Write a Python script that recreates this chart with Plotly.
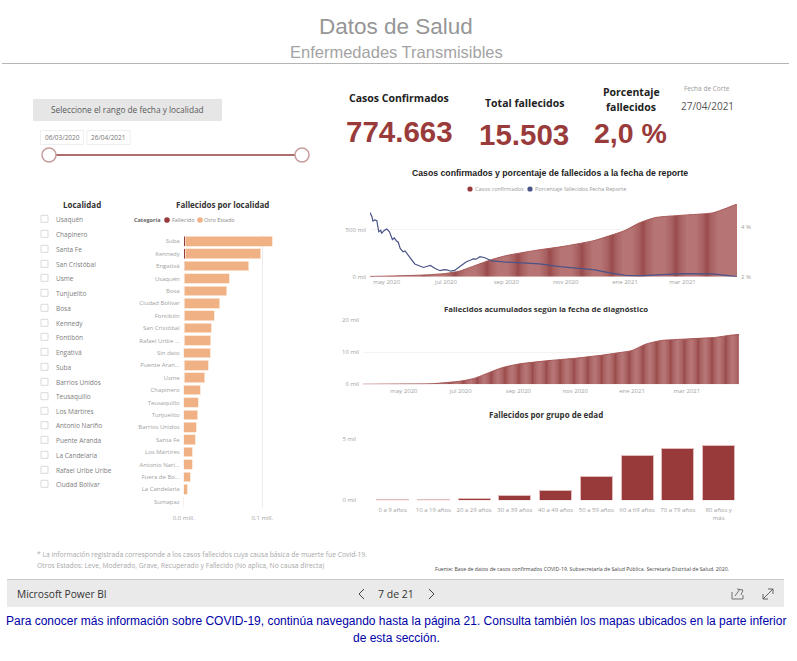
import plotly.graph_objects as go

W, H = 797, 661
def X(p): return p / W
def Y(p): return 1 - p / H

# ---------- data ----------
case_dates = ["2020-04-14","2020-05-01","2020-06-01","2020-06-15","2020-07-01","2020-07-15","2020-08-01","2020-08-15","2020-09-01",
              "2020-10-01","2020-11-01","2020-12-01","2020-12-15","2021-01-01","2021-01-15","2021-02-01","2021-03-01",
              "2021-04-01","2021-04-15","2021-04-26"]
case_values = [3,6,15,22,35,60,123,176,225,280,327,387,433,493,570,630,655,680,730,774.663]

pct_dates = ["2020-04-14","2020-04-16","2020-04-17","2020-04-19","2020-04-21","2020-04-22","2020-04-23","2020-04-25","2020-04-26","2020-04-28",
             "2020-05-01","2020-05-02","2020-05-04","2020-05-07","2020-05-09","2020-05-11","2020-05-13","2020-05-15","2020-05-18","2020-05-20","2020-05-23","2020-05-27",
             "2020-05-30","2020-06-04","2020-06-08","2020-06-11","2020-06-15","2020-06-20","2020-06-25","2020-06-29","2020-07-02","2020-07-06","2020-07-10",
             "2020-07-15","2020-07-22","2020-07-26","2020-07-29","2020-08-01","2020-08-05","2020-08-10","2020-08-17","2020-08-29","2020-09-15",
             "2020-10-05","2020-10-26","2020-11-15","2020-12-01","2020-12-15","2021-01-01","2021-01-15","2021-02-01",
             "2021-03-01","2021-04-01","2021-04-15","2021-04-26"]
pct_values = [4.57,4.40,4.23,4.27,4.24,4.07,3.80,3.86,3.73,3.83,3.91,3.88,3.80,3.49,3.55,3.44,3.38,3.13,3.00,3.03,2.87,2.67,
              2.51,2.43,2.37,2.41,2.45,2.33,2.24,2.28,2.27,2.22,2.25,2.40,2.60,2.66,2.71,2.70,2.80,2.76,2.63,2.59,2.56,2.51,2.40,2.34,
              2.27,2.16,2.05,2.03,2.07,2.12,2.11,2.05,2.00]

death_dates = ["2020-03-18","2020-05-01","2020-06-01","2020-07-01","2020-07-15","2020-08-01","2020-08-15","2020-09-01",
               "2020-10-01","2020-11-01","2020-12-01","2020-12-15","2021-01-01","2021-01-15","2021-02-01","2021-03-01",
               "2021-04-01","2021-04-15","2021-04-26"]
death_values = [0.01,0.1,0.2,1.0,1.8,3.7,5.2,6.3,7.3,8.1,9.1,9.7,10.5,12.4,13.6,14.1,14.6,15.2,15.503]

age_groups = ["0 a 9 años","10 a 19 años","20 a 29 años","30 a 39 años","40 a 49 años","50 a 59 años","60 a 69 años",
              "70 a 79 años","80 años y<br>más"]
age_values = [0.05,0.04,0.13,0.35,0.78,1.97,3.62,4.24,4.46]

loc_names = ["Suba","Kennedy","Engativá","Usaquén","Bosa","Ciudad Bolívar","Fontibón","San Cristóbal","Rafael Uribe ...",
             "Sin dato","Puente Aran...","Usme","Chapinero","Teusaquillo","Tunjuelito","Barrios Unidos","Santa Fe",
             "Los Mártires","Antonio Nari...","Fuera de Bo...","La Candelaria","Sumapaz"]
loc_dead = [0.0020,0.0020,0.0015,0.0008,0.0010,0.0008,0.0006,0.0006,0.0006,0.0003,0.0005,0.0004,0.0003,0.0003,0.0003,
            0.0003,0.0003,0.0002,0.0002,0.0001,0.0001,0.0000]
loc_other = [0.1107,0.0960,0.0812,0.0572,0.0540,0.0450,0.0380,0.0346,0.0341,0.0336,0.0308,0.0263,0.0205,0.0183,0.0175,
             0.0158,0.0141,0.0104,0.0104,0.0084,0.0041,0.0003]

filter_list = ["Usaquén","Chapinero","Santa Fe","San Cristóbal","Usme","Tunjuelito","Bosa","Kennedy","Fontibón","Engativá",
               "Suba","Barrios Unidos","Teusaquillo","Los Mártires","Antonio Nariño","Puente Aranda","La Candelaria",
               "Rafael Uribe Uribe","Ciudad Bolívar"]
filter_rows = [219.3,234.3,249.3,264.3,278.3,293.3,308.3,323.3,337.3,352.3,367.3,382.3,396.7,411.3,425.7,440.3,455.3,470.3,484.3]

x_tickvals = ["2020-05-01","2020-07-01","2020-09-01","2020-11-01","2021-01-01","2021-03-01"]
x_ticktext = ["may 2020","jul 2020","sep 2020","nov 2020","ene 2021","mar 2021"]

# ---------- palette ----------
RED = "#993a3a"
ORANGE = "#f0b185"
NAVY = "#4a5488"
GREY = "#a2a2a2"
SANS = "Open Sans"
ARIAL = "Liberation Sans"

def stripes(x0, x1, centres, half):
    light, dark, mid = "#b67474", "#9a4a4a", "#a86060"
    stops = [(0.0, light)]
    for c in centres:
        for off, col in ((-half, light), (-half * 0.35, mid), (0, dark), (half * 0.35, mid), (half, light)):
            f = (c + off - x0) / (x1 - x0)
            if 0 < f < 1 and f > stops[-1][0]:
                stops.append((f, col))
    stops.append((1.0, light))
    return stops

fig = go.Figure()

# chart 1
fig.add_trace(go.Scatter(x=case_dates, y=case_values, mode="lines", xaxis="x", yaxis="y",
                         line=dict(color="#a65555", width=1, shape="spline", smoothing=0.6), fill="tozeroy", showlegend=False,
                         name="Casos confirmados",
                         fillgradient=dict(type="horizontal",
                                           colorscale=stripes(370, 737, [423,455,487,518,550,582,612,643,676,707], 11))))
fig.add_trace(go.Scatter(x=pct_dates, y=pct_values, mode="lines", xaxis="x", yaxis="y2",
                         line=dict(color=NAVY, width=1.2), showlegend=False, name="Porcentaje fallecidos Fecha Reporte"))
# chart 2
fig.add_trace(go.Scatter(x=death_dates, y=death_values, mode="lines", xaxis="x2", yaxis="y3",
                         line=dict(color="#a65555", width=1, shape="spline", smoothing=0.6), fill="tozeroy", showlegend=False,
                         name="Fallecidos",
                         fillgradient=dict(type="horizontal",
                                           colorscale=stripes(363, 739, [363 + 13.8 * i + 4 for i in range(28)], 6))))
# chart 3
fig.add_trace(go.Bar(x=age_groups, y=age_values, xaxis="x3", yaxis="y4", marker=dict(color=RED, line=dict(color="#e2bcbc", width=1)),
                     width=0.79, showlegend=False))
# chart 4
fig.add_trace(go.Bar(y=loc_names, x=loc_dead, orientation="h", xaxis="x4", yaxis="y5", marker=dict(color=RED),
                     width=0.78, showlegend=False, name="Fallecido"))
fig.add_trace(go.Bar(y=loc_names, x=loc_other, orientation="h", xaxis="x4", yaxis="y5",
                     marker=dict(color=ORANGE, line=dict(color="#fae3d2", width=0.8)),
                     width=0.78, showlegend=False, name="Otro Estado"))

tick = dict(size=6, color=GREY, family=SANS)
gridc = "#f3f3f3"
common_x = dict(type="date", tickmode="array", tickvals=x_tickvals, ticktext=x_ticktext, tickfont=tick, showgrid=False,
                zeroline=False, showline=False, ticks="")
common_y = dict(tickfont=tick, showgrid=True, gridcolor=gridc, gridwidth=1, zeroline=False, showline=False, ticks="")

fig.update_layout(
    width=W, height=H, autosize=False, margin=dict(l=0, r=0, t=0, b=0, pad=0, autoexpand=False),
    paper_bgcolor="white", plot_bgcolor="white",
    font=dict(family=SANS), barmode="stack", showlegend=False,
    xaxis=dict(common_x, domain=[X(370), X(737)], range=["2020-04-14", "2021-04-26"], anchor="y"),
    yaxis=dict(common_y, domain=[Y(276.7), Y(204)], range=[0, 774.663], tickmode="array", tickvals=[0, 500],
               ticktext=["0 mil", "500 mil"], anchor="x", ticklabelstandoff=3),
    yaxis2=dict(tickfont=tick, overlaying="y", side="right", range=[2, 4.91], tickmode="array", tickvals=[2, 4],
                ticktext=["2 %", "4 %"], showgrid=False, zeroline=False, showline=False, ticks="", anchor="x",
                ticklabelstandoff=3),
    xaxis2=dict(common_x, domain=[X(363), X(739)], range=["2020-03-18", "2021-04-26"], anchor="y3", ticklabelstandoff=2),
    yaxis3=dict(common_y, domain=[Y(384.3), Y(320)], range=[0, 20], tickmode="array", tickvals=[0, 10, 20],
                ticktext=["0 mil", "10 mil", "20 mil"], anchor="x2", ticklabelstandoff=3),
    xaxis3=dict(domain=[X(360), X(739)], range=[-0.8, 8.5], type="category", categoryorder="array", categoryarray=age_groups,
                tickfont=tick, showgrid=False, zeroline=False, showline=False, ticks="", anchor="y4", tickangle=0,
                ticklabelstandoff=5),
    yaxis4=dict(common_y, domain=[Y(500.3), Y(438.7)], range=[0, 5], tickmode="array", tickvals=[0, 5],
                ticktext=["0 mil", "5 mil"], anchor="x3", ticklabelstandoff=3),
    xaxis4=dict(domain=[X(183.7), X(275)], range=[0, 0.1162], tickmode="array", tickvals=[0, 0.1],
                ticktext=["0,0 mill.", "0,1 mill."], tickfont=tick, showgrid=True, gridcolor="#ececec", zeroline=False,
                showline=False, ticks="", anchor="y5", ticklabelstandoff=5),
    yaxis5=dict(domain=[Y(507.9), Y(235.1)], type="category", categoryorder="array", categoryarray=loc_names[::-1],
                range=[-0.5, 21.5], tickfont=tick, showgrid=False, zeroline=False, showline=False, ticks="", anchor="x4",
                ticklabelstandoff=3, dtick=1),
)

ann, shp = [], []

def text(px, py, s, size, color, family=SANS, anchor="center", bold=False):
    if bold:
        s = f"<b>{s}</b>"
    ann.append(dict(x=X(px), y=Y(py), xref="paper", yref="paper", text=s, showarrow=False, xanchor=anchor, yanchor="middle",
                    font=dict(size=size, color=color, family=family), align="center", borderpad=0))

def rect(x0, y0, x1, y1, fill=None, line=None, lw=1):
    shp.append(dict(type="rect", xref="paper", yref="paper", x0=X(x0), x1=X(x1), y0=Y(y0), y1=Y(y1),
                    fillcolor=fill or "rgba(0,0,0,0)", line=dict(color=line or "rgba(0,0,0,0)", width=lw if line else 0),
                    layer="below"))

def line(x0, y0, x1, y1, color, lw=1):
    shp.append(dict(type="line", xref="paper", yref="paper", x0=X(x0), x1=X(x1), y0=Y(y0), y1=Y(y1),
                    line=dict(color=color, width=lw)))

def dot(cx, cy, r, fill, stroke=None, lw=1):
    shp.append(dict(type="circle", xref="paper", yref="paper", x0=X(cx - r), x1=X(cx + r), y0=Y(cy + r), y1=Y(cy - r),
                    fillcolor=fill, line=dict(color=stroke or fill, width=lw if stroke else 0)))

# header
text(396, 27, "Datos de Salud", 22.5, "#969696", ARIAL)
text(396, 52, "Enfermedades Transmisibles", 16.5, "#a3a3a3", ARIAL)
line(2, 63.5, 789, 63.5, "#b5b5b5", 1)

# date slicer
rect(33, 99, 222, 121, fill="#e6e6e6")
text(128, 109.5, "Seleccione el rango de fecha y localidad", 8.3, "#5a5a5a")
rect(40.5, 130.5, 83.5, 144.5, line="#efefef")
rect(87, 130.5, 130, 144.5, line="#efefef")
text(62, 137.5, "06/03/2020", 6.5, "#777777")
text(108.5, 137.5, "26/04/2021", 6.5, "#777777")
line(49, 155, 302, 155, "#8f3f3f", 1.5)
dot(49, 155, 7, "white", "#c99c9c", 1.5)
dot(302, 155, 7, "white", "#c99c9c", 1.5)

# filter list
text(82, 204, "Localidad", 8, "#333333", bold=True)
text(222, 204, "Fallecidos por localidad", 8, "#333333", bold=True)
for name, row in zip(filter_list, filter_rows):
    rect(41, row - 4, 48, row + 3, fill="white", line="#dadada", lw=1)
    text(55, row, name, 6.5, "#7d7d7d", anchor="left")

# bar legend
text(133, 220, "Categoría", 5.5, "#666666", anchor="left", bold=True)
dot(167, 220, 2.8, RED)
text(170.5, 220, "Fallecido", 5.5, "#888888", anchor="left")
dot(200, 220, 2.8, ORANGE)
text(203.5, 220, "Otro Estado", 5.5, "#888888", anchor="left")

# KPIs
KPI = "#9a3b3b"
text(399, 98, "Casos Confirmados", 10.5, "#222222", bold=True)
text(399, 132, "774.663", 29.5, KPI, ARIAL, bold=True)
text(524, 103, "Total fallecidos", 10.5, "#222222", bold=True)
text(524, 134, "15.503", 29.5, KPI, ARIAL, bold=True)
text(631, 92, "Porcentaje", 10.5, "#222222", bold=True)
text(631, 107, "fallecidos", 10.5, "#222222", bold=True)
text(630, 133, "2,0 %", 28.5, KPI, ARIAL, bold=True)
text(707, 88.5, "Fecha de Corte", 6.5, "#999999")
text(707, 106, "27/04/2021", 10, "#555555")

# chart titles and legend
text(550, 173, "Casos confirmados y porcentaje de fallecidos a la fecha de reporte", 8.7, "#222222", ARIAL, bold=True)
dot(470, 189, 2.6, RED)
text(474, 189, "Casos confirmados", 5.5, "#999999", anchor="left")
dot(530, 189, 2.6, NAVY)
text(534, 189, "Porcentaje fallecidos Fecha Reporte", 5.5, "#999999", anchor="left")
text(546, 309, "Fallecidos acumulados según la fecha de diagnóstico", 7.8, "#333333", bold=True)
text(546, 414, "Fallecidos por grupo de edad", 8, "#333333", bold=True)

# footnotes
text(36, 554.5, "* La información registrada corresponde a los casos fallecidos cuya causa básica de muerte fue Covid-19.", 6.75, "#a8a8a8", anchor="left")
text(36, 565, "Otros Estados: Leve, Moderado, Grave, Recuperado y Fallecido (No aplica, No causa directa)", 6.75, "#a8a8a8", anchor="left")
text(434, 569, "Fuente: Base de datos de casos confirmados COVID-19. Subsecretaría de Salud Pública. Secretaría Distrital de Salud. 2020.", 5.2, "#444444", anchor="left")

# Power BI bar
rect(7, 579, 784, 607, fill="#eaeaea")
line(7, 579.5, 784, 579.5, "#c8c8c8", 1)
text(16, 594, "Microsoft Power BI", 10.2, "#333333", anchor="left")
text(396, 594, "7 de 21", 10.5, "#333333")
for pts in ([(364,589),(359,594),(364,599)], [(429,589),(434,594),(429,599)]):
    for a, b in zip(pts, pts[1:]):
        line(a[0], a[1], b[0], b[1], "#444444", 1)
# share icon
for a, b in [((732,592),(732,599)),((732,599),(743,599)),((743,599),(743,595)),((735,596),(740,589)),((737,589),(743,590)),((743,590),(741,595))]:
    line(a[0], a[1], b[0], b[1], "#666666", 0.9)
# expand icon
for a, b in [((763,599),(773,589)),((763,599),(763,594)),((763,599),(768,599)),((773,589),(768,589)),((773,589),(773,594))]:
    line(a[0], a[1], b[0], b[1], "#555555", 0.9)

# page caption
text(396, 620.5, "Para conocer más información sobre COVID-19, continúa navegando hasta la página 21. Consulta también los mapas ubicados en la parte inferior", 12, "#0000a8", ARIAL)
text(396, 637.5, "de esta sección.", 12, "#0000a8", ARIAL)

fig.update_layout(annotations=ann, shapes=shp)
fig.write_html("out.html", config={"displayModeBar": False},
               post_script="document.body.style.margin='0';document.body.style.overflow='hidden';")
